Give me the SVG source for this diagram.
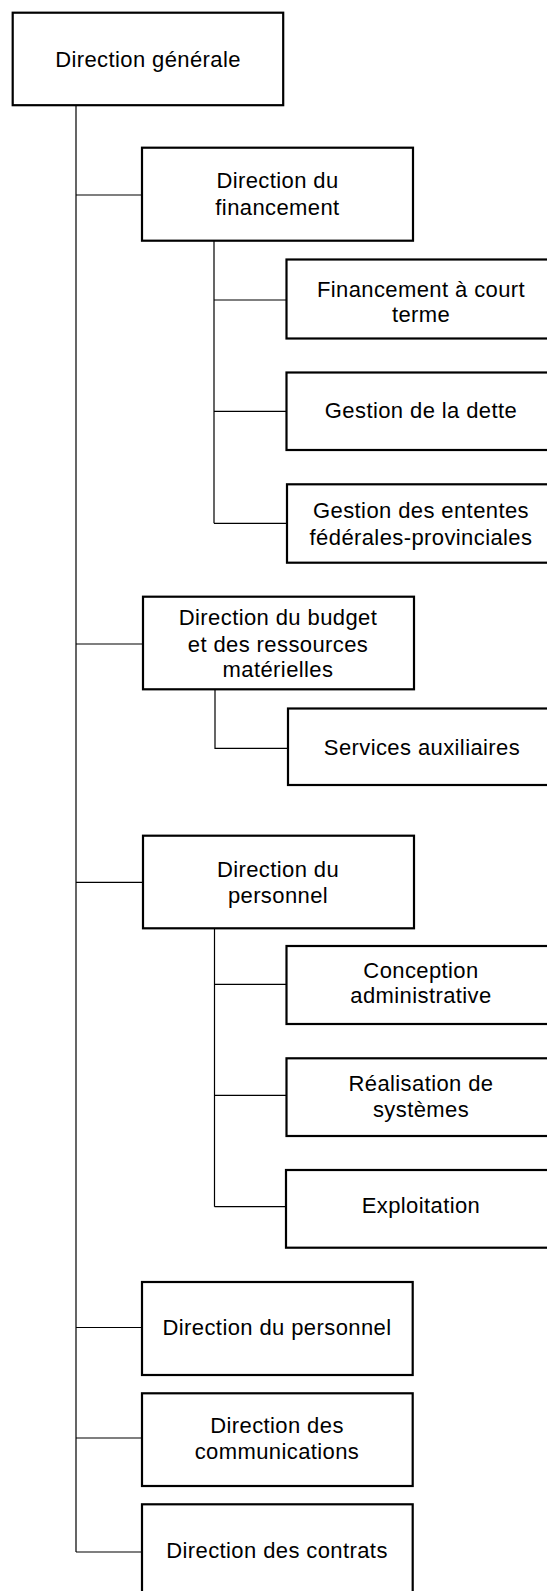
<svg xmlns="http://www.w3.org/2000/svg" width="547" height="1591" viewBox="0 0 547 1591">
<style>
.box{fill:#fff;stroke:#000;stroke-width:2.2}
.ln{fill:none;stroke:#000;stroke-width:1.2}
text{font-family:"Liberation Sans",Arial,sans-serif;font-size:22px;letter-spacing:0.4px;text-anchor:middle;fill:#000}
</style>
<rect width="547" height="1591" fill="#fff"/>
<g id="connectors">
<path class="ln" d="M76 105V1552M76 195H142M76 644H143M76 882.3H143M76 1327.5H142M76 1438H142M76 1552H142"/>
<path class="ln" d="M214 240.7V523.3M214 300H286.5M214 411.3H286.5M214 523.3H287"/>
<path class="ln" d="M215 689.3V748.3H288"/>
<path class="ln" d="M214.5 928.3V1206.7M214.5 984.3H286.5M214.5 1095.3H286.5M214.5 1206.7H286.5"/>
</g>
<g id="n-generale"><rect class="box" x="12.7" y="12.7" width="270.5" height="92.5"/><text x="148" y="66.7">Direction générale</text></g>
<g id="n-financement"><rect class="box" x="142" y="147.7" width="271" height="93"/><text x="277.5" y="188.3">Direction du</text><text x="277.5" y="215">financement</text></g>
<g id="n-court-terme"><rect class="box" x="286.5" y="259.5" width="280" height="79"/><text x="421" y="296.5">Financement à court</text><text x="421" y="321.7">terme</text></g>
<g id="n-dette"><rect class="box" x="286.5" y="372.5" width="280" height="77.5"/><text x="421" y="418.3">Gestion de la dette</text></g>
<g id="n-ententes"><rect class="box" x="287" y="484.3" width="280" height="78.4"/><text x="421" y="518.3">Gestion des ententes</text><text x="421" y="545">fédérales-provinciales</text></g>
<g id="n-budget"><rect class="box" x="143" y="596.7" width="271" height="92.6"/><text x="278" y="625">Direction du budget</text><text x="278" y="651.7">et des ressources</text><text x="278" y="677.3">matérielles</text></g>
<g id="n-auxiliaires"><rect class="box" x="288" y="708.5" width="280" height="76.5"/><text x="422" y="755">Services auxiliaires</text></g>
<g id="n-personnel"><rect class="box" x="143" y="835.7" width="271" height="92.6"/><text x="278" y="876.7">Direction du</text><text x="278" y="902.7">personnel</text></g>
<g id="n-conception"><rect class="box" x="286.5" y="946" width="280" height="78"/><text x="421" y="978.3">Conception</text><text x="421" y="1003.3">administrative</text></g>
<g id="n-realisation"><rect class="box" x="286.5" y="1058.3" width="280" height="77.7"/><text x="421" y="1090.7">Réalisation de</text><text x="421" y="1116.7">systèmes</text></g>
<g id="n-exploitation"><rect class="box" x="286" y="1170" width="280" height="77.7"/><text x="421" y="1213.3">Exploitation</text></g>
<g id="n-personnel2"><rect class="box" x="142" y="1282" width="270.7" height="93"/><text x="277" y="1335">Direction du personnel</text></g>
<g id="n-communications"><rect class="box" x="142" y="1393.3" width="270.7" height="92.7"/><text x="277" y="1433.3">Direction des</text><text x="277" y="1459.3">communications</text></g>
<g id="n-contrats"><rect class="box" x="142" y="1504.3" width="270.7" height="110"/><text x="277" y="1558.3">Direction des contrats</text></g>
</svg>
